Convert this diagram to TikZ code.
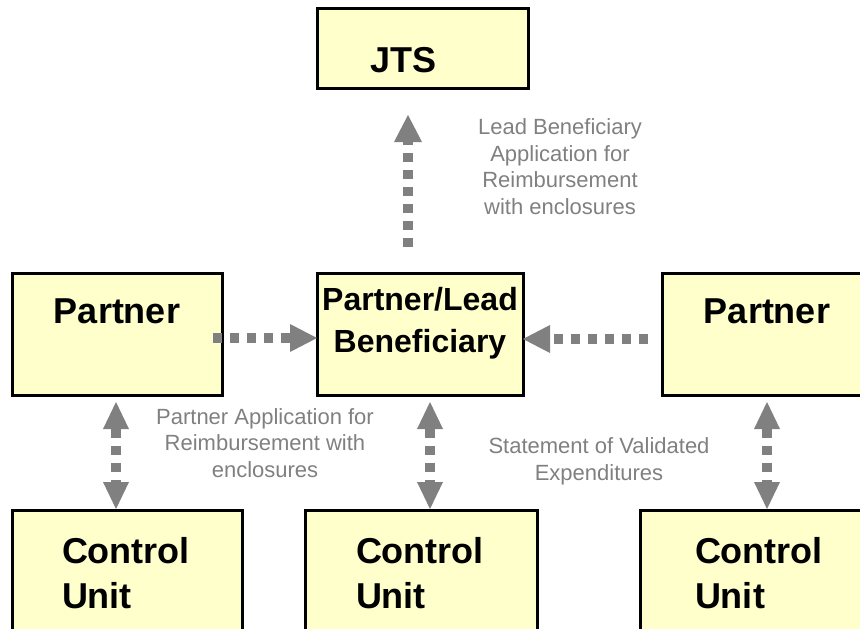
\documentclass[tikz,border=0pt]{standalone}
\usepackage{fontspec}
\setmainfont{Liberation Sans}
\usetikzlibrary{arrows.meta,calc}

\definecolor{boxyellow}{HTML}{FFFFCC}
\definecolor{flowgray}{HTML}{808080}

\begin{document}
\begin{tikzpicture}[x=1pt,y=-1pt,
    box/.style={draw=black,line width=3pt,fill=boxyellow,rectangle,anchor=north west,
      outer sep=0pt,inner ysep=0pt,font=\fontsize{36pt}{45pt}\selectfont\bfseries},
    partner/.style={box,inner xsep=0pt,text width=210pt,align=center,text height=50pt,text depth=72pt},
    unit/.style={box,text width=130pt,align=left,text height=53pt,text depth=77pt},
    note/.style={text=flowgray,align=center,anchor=base,font=\fontsize{22pt}{26.5pt}\selectfont},
    flow/.style={draw=flowgray,line width=10pt,dash pattern=on 9pt off 8pt},
    onehead/.style={-{Triangle[width=28pt,length=27pt,line width=0pt]}},
    twohead/.style={{Triangle[width=26pt,length=27pt,line width=0pt]}-{Triangle[width=26pt,length=27pt,line width=0pt]}}]
  \useasboundingbox (0,0) rectangle (860,629);
  \clip (0,0) rectangle (860,629);

  % boxes
  \node[box,inner xsep=53pt,text width=105pt,align=left,text height=64pt,text depth=16pt] (jts) at (317,8) {JTS};
  \node[partner] (partnerL) at (12,273) {Partner};
  \node[box,inner xsep=0pt,text width=206pt,align=center,text height=37pt,text depth=85pt,
    font=\fontsize{32pt}{42pt}\selectfont\bfseries] (lead) at (317,273) {Partner/Lead\\Beneficiary};
  \node[partner] (partnerR) at (662,273) {Partner};
  \foreach \n/\x/\s in {cuL/12/50,cuM/305/51,cuR/640/55}
    \node[unit,inner xsep=\s pt] (\n) at (\x,510) {Control\\Unit};

  % flows
  \draw[flow,onehead,shorten <=26pt,shorten >=27pt] ([xshift=-12pt]lead.north) -- ([xshift=-12pt]lead.north |- jts.south);
  \draw[flow,onehead,shorten <=-9pt] ([yshift=-4pt]partnerL.east) -- ([yshift=-4pt]partnerL.east -| lead.west);
  \draw[flow,onehead,shorten <=14pt] ([yshift=-5pt]partnerR.west) -- ([yshift=-5pt]partnerR.west -| lead.east);
  \foreach \a/\b/\dx in {partnerL/cuL/-1,lead/cuM/10,partnerR/cuR/0}
    \draw[flow,twohead,shorten <=7pt,shorten >=1pt] ([xshift=\dx pt]\a.south) -- ([xshift=\dx pt]\a.south |- \b.north);

  % notes (base = last line)
  \node[note] (noteLead) at (560,214) {Lead Beneficiary\\Application for\\Reimbursement\\with enclosures};
  \node[note] (notePartner) at (265,477) {Partner Application for\\Reimbursement with\\enclosures};
  \node[note] (noteStatement) at (599,480) {Statement of Validated\\Expenditures};
\end{tikzpicture}
\end{document}
